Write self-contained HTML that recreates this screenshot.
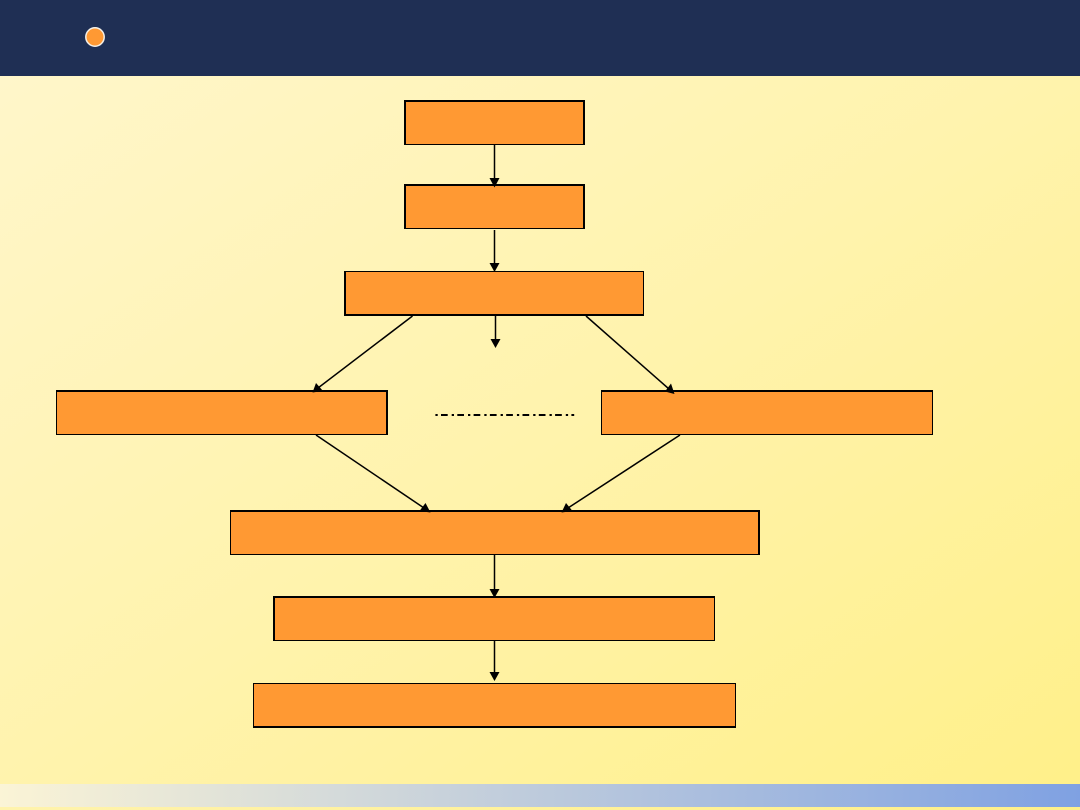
<!DOCTYPE html>
<html>
<head>
<meta charset="utf-8">
<title>Flow diagram</title>
<style>
html,body{margin:0;padding:0;width:1080px;height:810px;overflow:hidden;background:#fff;}
#bg{position:absolute;left:0;top:76px;width:1080px;height:734px;background:linear-gradient(to bottom right,#FFF6CA 0%,#FFF3AC 50%,#FFF088 100%);}
#hd{position:absolute;left:0;top:0;width:1080px;height:76px;background:#1F2F54;}
#ft{position:absolute;left:0;top:784px;width:1080px;height:23px;background:linear-gradient(92deg,#FBF4D6 0%,#7FA1E2 100%);}
.b{position:absolute;box-sizing:border-box;background:#FF9933;border-style:solid;border-color:#000;}
svg{position:absolute;left:0;top:0;}
</style>
</head>
<body>
<div id="bg"></div>
<div id="hd"></div>
<div id="ft"></div>

<div class="b" style="left:404px;top:100px;width:181px;height:45px;border-width:2px 2px 1px 2px"></div>
<div class="b" style="left:404px;top:184px;width:181px;height:45px;border-width:2px 2px 1px 2px"></div>
<div class="b" style="left:344px;top:271px;width:300px;height:45px;border-width:1px 1px 2px 2px"></div>
<div class="b" style="left:56px;top:390px;width:332px;height:45px;border-width:2px 2px 1px 1px"></div>
<div class="b" style="left:601px;top:390px;width:332px;height:45px;border-width:2px 1px 1px 1px"></div>
<div class="b" style="left:230px;top:510px;width:530px;height:45px;border-width:2px 2px 1px 1px"></div>
<div class="b" style="left:273px;top:596px;width:442px;height:45px;border-width:2px 1px 1px 2px"></div>
<div class="b" style="left:253px;top:683px;width:483px;height:45px;border-width:1px 1px 2px 1px"></div>

<svg width="1080" height="810" viewBox="0 0 1080 810">
  <circle cx="95" cy="37" r="9.2" fill="#FF9933" stroke="#F4F0E8" stroke-width="1.5"/>

  <g stroke="#000" stroke-width="1.5" fill="none">
    <line x1="494.5" y1="145" x2="494.5" y2="179"/>
    <line x1="494.5" y1="230" x2="494.5" y2="264"/>
    <line x1="495.5" y1="316" x2="495.5" y2="340"/>
    <line x1="494.5" y1="555" x2="494.5" y2="590"/>
    <line x1="494.5" y1="640" x2="494.5" y2="674"/>
    <line x1="412.5" y1="316" x2="318" y2="388"/>
    <line x1="586" y1="316" x2="669" y2="389"/>
    <line x1="316" y1="435" x2="424" y2="508"/>
    <line x1="680" y1="435" x2="568" y2="508"/>
  </g>

  <g fill="#000">
    <polygon points="489.5,178 499.5,178 494.5,187.5"/>
    <polygon points="489.5,263 499.5,263 494.5,272"/>
    <polygon points="490.5,339 500.5,339 495.5,348"/>
    <polygon points="489.5,589 499.5,589 494.5,598"/>
    <polygon points="489.5,672 499.5,672 494.5,681"/>
    <polygon points="312.5,392.5 316,383 323,391"/>
    <polygon points="674.5,394 665,391.5 671,383.5"/>
    <polygon points="430.5,512.5 419.5,511 425.5,503"/>
    <polygon points="561.5,512.5 566,503 572.5,511"/>
  </g>

  <line x1="435.4" y1="415" x2="574.2" y2="415" stroke="#000" stroke-width="2" stroke-dasharray="2.3 3.3 6.7 4"/>
</svg>
</body>
</html>
